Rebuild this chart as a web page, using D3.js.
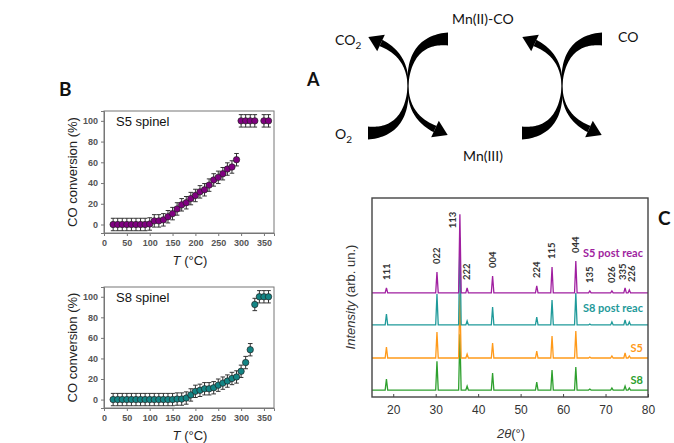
<!DOCTYPE html>
<html><head><meta charset="utf-8">
<script src="https://cdn.jsdelivr.net/npm/d3@7"></script>
<style>body{margin:0;background:#fff} svg{display:block}</style>
</head><body>
<svg id="c" width="674" height="443"></svg>
<script>
// ---------- Panel B data ----------
const tempS5 = [20,30,40,50,60,70,80,90,100,110,120,130,140,150,160,170,180,190,200,210,220,230,240,250,260,270,280,290,300,310,320,330,350,360];
const convS5 = [0,0,0,0,0,0,0,0,0.5,3.5,3.5,4.5,7.5,10.5,15,19,21,25,28,31.5,33.5,38,43,45.5,49,53.5,55.5,62.5,100,100,100,100,100,100];
const tempS8 = [20,30,40,50,60,70,80,90,100,110,120,130,140,150,160,170,180,190,200,210,220,230,240,250,260,270,280,290,300,310,320,330,340,350,360];
const convS8 = [0,0,0,0,0,0,0,0,0,0,0,0,0,0,0.5,0.5,1.5,4.5,8,9,10.5,10.5,11.5,14,16,18,20.5,22,27.5,36,48.5,92.5,100,100,100];
const convErr = 6;
const xTicksB = [0,50,100,150,200,250,300,350];
const yTicksB = [0,20,40,60,80,100];

// ---------- Panel C data ----------
const peak2theta = [18.4,30.3,35.7,37.4,43.4,53.8,57.4,63.0,66.3,71.5,74.6,75.6];
const hkl = ["111","022","113","222","004","224","115","044","135","026","335","226"];
const xrdS5post = [2.5,10.5,39.5,2.5,8.5,3.5,13,16,1,1,2.5,1.5];
const xrdS8post = [5.5,15.5,44,2,9,4,12.5,16,0.5,1.5,2.5,1.5];
const xrdS5 = [5.5,13,32,2,7.5,3.5,11,13.5,0.5,1,2.5,1];
const xrdS8 = [5.5,14.5,28,2,8.5,4,10,11.5,0.5,1,2,1];
const seriesNames = ["S5 post reac","S8 post reac","S5","S8"];
const seriesOffset = [52.3,36.2,19.6,3.5];
const xTicksC = [20,30,40,50,60,70,80];

const svg = d3.select("#c");
const ARIAL = "'Liberation Sans', Arial, sans-serif";
const CAL = "Lato, 'Open Sans', sans-serif";

// ---------- Panel B ----------
function panelB(top, bottom, temps, vals, color, title) {
  const x = d3.scaleLinear().domain([0,372]).range([104,274]);
  const y = d3.scaleLinear().domain([-8.2,109.5]).range([bottom,top]);
  const g = svg.append("g");
  g.append("rect").attr("x",104).attr("y",top).attr("width",170).attr("height",bottom-top)
    .attr("fill","none").attr("stroke","#777").attr("stroke-width",1);
  const ax = g.append("g").attr("transform",`translate(0,${bottom})`)
    .call(d3.axisBottom(x).tickValues(xTicksB).tickSize(3).tickPadding(4));
  const ay = g.append("g").attr("transform",`translate(104,0)`)
    .call(d3.axisLeft(y).tickValues(yTicksB).tickSize(3).tickPadding(3));
  [ax,ay].forEach(a=>{
    a.select(".domain").attr("stroke","#777");
    a.selectAll(".tick line").attr("stroke","#777");
    a.selectAll("text").attr("font-family",ARIAL).attr("font-size",9).attr("font-weight","bold").attr("fill","#555");
  });
  const pts = temps.map((t,i)=>({t, v: vals[i]}));
  const eb = g.append("g").attr("stroke","#333").attr("stroke-width",1);
  pts.forEach(p=>{
    const cx = x(p.t);
    eb.append("line").attr("x1",cx).attr("x2",cx).attr("y1",y(p.v-convErr)).attr("y2",y(p.v+convErr));
    eb.append("line").attr("x1",cx-2.3).attr("x2",cx+2.3).attr("y1",y(p.v-convErr)).attr("y2",y(p.v-convErr));
    eb.append("line").attr("x1",cx-2.3).attr("x2",cx+2.3).attr("y1",y(p.v+convErr)).attr("y2",y(p.v+convErr));
  });
  g.append("g").selectAll("circle").data(pts).join("circle")
    .attr("cx",d=>x(d.t)).attr("cy",d=>y(d.v)).attr("r",3.2)
    .attr("fill",color).attr("stroke","#222").attr("stroke-width",0.7);
  g.append("text").attr("x",116).attr("y",top+15).attr("font-family",ARIAL).attr("font-size",13)
    .attr("fill","#111").text(title);
  g.append("text").attr("transform",`translate(77,${(top+bottom)/2}) rotate(-90)`)
    .attr("text-anchor","middle").attr("font-family",ARIAL).attr("font-size",13).attr("fill","#222")
    .text("CO conversion (%)");
  const xt = g.append("text").attr("x",190).attr("y",bottom+32).attr("text-anchor","middle")
    .attr("font-family",ARIAL).attr("font-size",13).attr("fill","#222");
  xt.append("tspan").attr("font-style","italic").text("T");
  xt.append("tspan").text(" (°C)");
}
panelB(111,233,tempS5,convS5,"#800080","S5 spinel");
panelB(287,408,tempS8,convS8,"#138484","S8 spinel");
svg.append("text").attr("x",59).attr("y",96).attr("font-family",CAL).attr("font-weight","bold")
  .attr("font-size",19).attr("fill","#111").text("B");

// ---------- Panel A (scheme) ----------
function bez(P,t){const m=1-t;return [0,1].map(k=>m*m*m*P[0][k]+3*m*m*t*P[1][k]+3*m*t*t*P[2][k]+t*t*t*P[3][k]);}
function bezD(P,t){const m=1-t;return [0,1].map(k=>3*m*m*(P[1][k]-P[0][k])+6*m*t*(P[2][k]-P[1][k])+3*t*t*(P[3][k]-P[2][k]));}
function arm(cx,cy,sx,sy,head){
  const P = head ? [[0,0],[0,-24],[12,-36],[27,-43]] : [[0,0],[0,-28],[12,-47],[40,-47]];
  const w1 = head ? 7 : 13, N = 40, L=[], R=[];
  for(let i=0;i<=N;i++){
    const t=i/N, p=bez(P,t); let d=bezD(P,t); const len=Math.hypot(d[0],d[1]);
    d=[d[0]/len,d[1]/len]; const n=[-d[1],d[0]]; const w=0.8+(w1-0.8)*Math.pow(t,1.1);
    L.push([p[0]+n[0]*w/2,p[1]+n[1]*w/2]); R.push([p[0]-n[0]*w/2,p[1]-n[1]*w/2]);
  }
  let poly = L.concat(R.reverse());
  const tf = p=>[cx+sx*p[0], cy+sy*p[1]];
  svg.append("path").attr("d",d3.line()(poly.map(tf))+"Z").attr("fill","#000");
  if(head){
    let d=bezD(P,1); const len=Math.hypot(d[0],d[1]); d=[d[0]/len,d[1]/len]; const n=[-d[1],d[0]];
    const b=P[3], tip=[b[0]+d[0]*14,b[1]+d[1]*14];
    const tri=[[b[0]+n[0]*9,b[1]+n[1]*9],tip,[b[0]-n[0]*9,b[1]-n[1]*9]];
    svg.append("path").attr("d",d3.line()(tri.map(tf))+"Z").attr("fill","#000");
  }
}
[[408,86],[562,86]].forEach(([cx,cy])=>{
  arm(cx,cy,1,1,false); arm(cx,cy,-1,1,true); arm(cx,cy,-1,-1,false); arm(cx,cy,1,-1,true);
});
function chem(x,y,main,sub){
  const t=svg.append("text").attr("x",x).attr("y",y).attr("font-family",CAL).attr("font-size",14).attr("fill","#111");
  t.append("tspan").text(main);
  if(sub){t.append("tspan").attr("font-size",10).attr("dy",4).text(sub);}
}
chem(335,45,"CO","2");
chem(335,139,"O","2");
chem(452,24,"Mn(II)-CO");
chem(463,161,"Mn(III)");
chem(618,42,"CO");
svg.append("text").attr("x",307).attr("y",86).attr("font-family",CAL).attr("font-weight","bold")
  .attr("font-size",18).attr("fill","#111").text("A");

// ---------- Panel C (XRD) ----------
const xC = d3.scaleLinear().domain([15,80]).range([372,648]);
const yC = d3.scaleLinear().domain([0,100]).range([397,198]);
const gC = svg.append("g");
const allSeries = [xrdS5post,xrdS8post,xrdS5,xrdS8];
const colors = ["#a01fa0","#1f9a9a","#ff9a1a","#2ea02e"];
const nameLift = [40,17,10,10];
const line = d3.line().x(d=>xC(d[0])).y(d=>yC(d[1]));
for(let s=3;s>=0;s--){
  const off=seriesOffset[s], pts=[[15,off]];
  peak2theta.forEach((p,i)=>{pts.push([p-0.3,off],[p,off+allSeries[s][i]],[p+0.3,off]);});
  pts.push([80,off]);
  gC.append("path").attr("d",line(pts)).attr("fill","none").attr("stroke",colors[s]).attr("stroke-width",1.3);
  gC.append("text").attr("x",643).attr("y",yC(off)-nameLift[s]).attr("dy","0.35em").attr("text-anchor","end")
    .attr("font-family",CAL).attr("font-weight","bold").attr("font-size",11).attr("fill",colors[s]).text(seriesNames[s]);
}
peak2theta.forEach((p,i)=>{
  const topY = yC(seriesOffset[0]+xrdS5post[i]);
  const tall = xrdS5post[i] > 30;
  let px = tall ? xC(p)-7 : xC(p);
  // nudge apart labels of neighbouring peaks that are too close
  if (i+1 < peak2theta.length && peak2theta[i+1]-p < 1.5) px -= 2;
  if (i > 0 && p-peak2theta[i-1] < 1.5) px += 2.5;
  const by = tall ? topY+14 : topY-8;
  gC.append("text").attr("transform",`translate(${px},${by}) rotate(-90)`).attr("dy","0.35em")
    .attr("font-family",CAL).attr("font-weight","bold").attr("font-size",9.5).attr("fill","#333").text(hkl[i]);
});
gC.append("rect").attr("x",372).attr("y",198).attr("width",276).attr("height",199)
  .attr("fill","none").attr("stroke","#444").attr("stroke-width",1.4);
const axC = gC.append("g").attr("transform","translate(0,397)")
  .call(d3.axisBottom(xC).tickValues(xTicksC).tickSize(-3).tickPadding(8));
axC.select(".domain").remove();
axC.selectAll(".tick line").attr("stroke","#444");
axC.selectAll("text").attr("font-family",ARIAL).attr("font-size",12).attr("fill","#333");
const t2 = gC.append("text").attr("x",511).attr("y",438).attr("text-anchor","middle")
  .attr("font-family",ARIAL).attr("font-size",13).attr("fill","#333");
t2.append("tspan").attr("font-style","italic").text("2θ");
t2.append("tspan").text("(°)");
const tI = gC.append("text").attr("transform","translate(355,297) rotate(-90)").attr("text-anchor","middle")
  .attr("font-family",ARIAL).attr("font-size",13).attr("fill","#333");
tI.append("tspan").attr("font-style","italic").text("Intensity");
tI.append("tspan").text(" (arb. un.)");
svg.append("text").attr("x",658).attr("y",225).attr("font-family",CAL).attr("font-weight","bold")
  .attr("font-size",19).attr("fill","#111").text("C");
</script>
</body></html>
